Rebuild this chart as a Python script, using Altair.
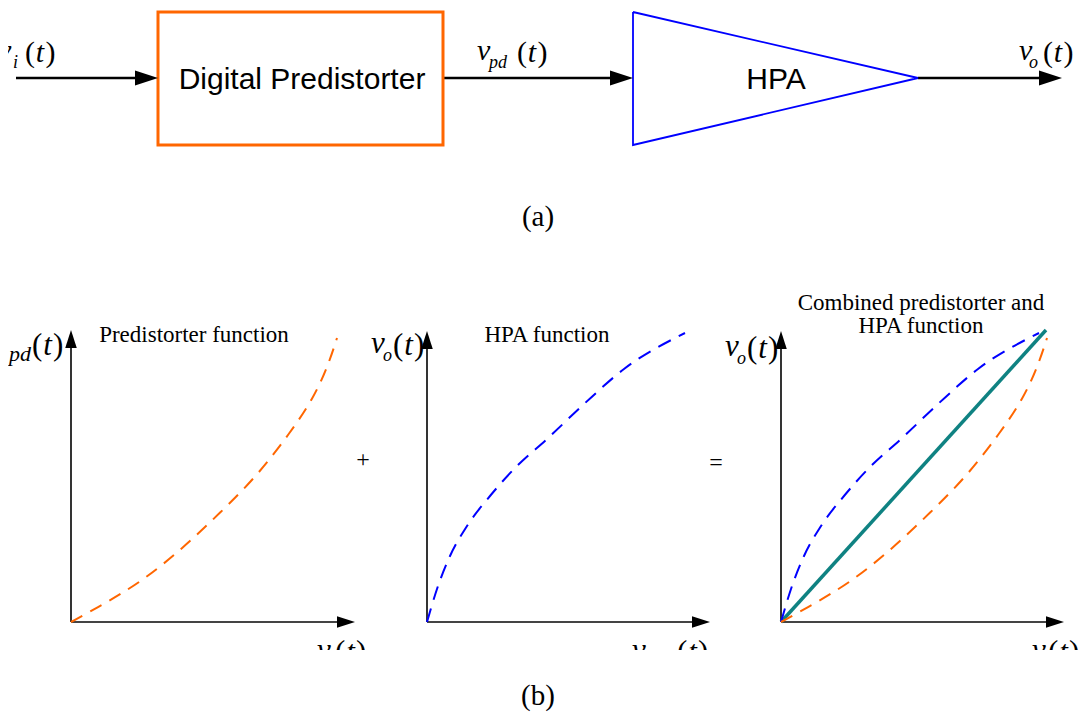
import altair as alt
import pandas as pd

# ---------------- content ----------------
BLOCK_LABELS = ["Digital Predistorter", "HPA"]
PANEL_TITLES = ["Predistorter function", "HPA function", "Combined predistorter and", "HPA function"]
CAPTIONS = ["(a)", "(b)"]
OPERATORS = ["+", "="]
SIGNAL = "v"
TOP_SUBS = ["i", "pd", "o"]          # v_i(t) -> [DPD] -> v_pd(t) -> [HPA] -> v_o(t)
YAXIS_SUBS = ["pd", "o", "o"]
XAXIS_SUBS = ["i", "pd", "i"]

# transfer curves: offsets from the panel origin (right, up)
PD_DX = [0, 24, 69, 111, 149, 186, 219, 242, 257, 266]
PD_DY = [0, 13, 39, 73, 109, 146, 189, 223, 256, 284]
HPA_DX = [0, 10, 23, 40, 63, 90, 120, 157, 197, 258]
HPA_DY = [0, 33, 66, 96, 126, 156, 183, 218, 253, 289]
LIN_DX = [0, 265]
LIN_DY = [0, 292]

# ---------------- layout (page pixels) ----------------
BOX_X = [158, 443]
BOX_Y = [12, 145]
AMP_X = [633, 633, 918, 633]
AMP_Y = [12, 145, 78, 12]
WIRE_Y = 78
WIRE_X0 = [16, 443, 918]
WIRE_X1 = [150, 625, 1054]
ARROW_TOP_X = [158, 633, 1062]

PANEL_X0 = [71, 427, 781]
PANEL_Y0 = 622
YAXIS_TIP = [330, 331, 331]
XAXIS_TIP = [355, 710, 1064]

ORANGE = "#FF6600"
BLUE = "#0000FF"
TEAL = "#0F8282"

# ---------------- tables ----------------
box = pd.DataFrame({"x": [BOX_X[0]], "x2": [BOX_X[1]], "y": [BOX_Y[0]], "y2": [BOX_Y[1]]})
amp = pd.DataFrame({"x": AMP_X, "y": AMP_Y, "i": list(range(len(AMP_X)))})
wires = pd.DataFrame({"x": WIRE_X0, "x2": WIRE_X1, "y": [WIRE_Y] * 3, "y2": [WIRE_Y] * 3})

yaxes = pd.DataFrame({"x": PANEL_X0, "x2": PANEL_X0, "y": [PANEL_Y0] * 3,
                      "y2": [t + 12 for t in YAXIS_TIP]})
xaxes = pd.DataFrame({"x": PANEL_X0, "x2": [t - 12 for t in XAXIS_TIP],
                      "y": [PANEL_Y0] * 3, "y2": [PANEL_Y0] * 3})

arrows_right = pd.DataFrame({"x": ARROW_TOP_X, "y": [WIRE_Y] * 3})
arrows_right_small = pd.DataFrame({"x": XAXIS_TIP, "y": [PANEL_Y0] * 3})
arrows_up = pd.DataFrame({"x": PANEL_X0, "y": YAXIS_TIP})


def curve(name, dx, dy, x0):
    return pd.DataFrame({"curve": name, "i": list(range(len(dx))),
                         "x": [x0 + v for v in dx], "y": [PANEL_Y0 - v for v in dy]})


orange_df = pd.concat([curve("pd1", PD_DX, PD_DY, PANEL_X0[0]),
                       curve("pd3", PD_DX, PD_DY, PANEL_X0[2])])
blue_df = pd.concat([curve("hpa2", HPA_DX, HPA_DY, PANEL_X0[1]),
                     curve("hpa3", HPA_DX, HPA_DY, PANEL_X0[2])])
teal_df = curve("lin", LIN_DX, LIN_DY, PANEL_X0[2])

italic_rows, upright_rows = [], []


def math_label(xv, base, size, sub, xsub, xpar, subsize=18):
    italic_rows.append({"x": xv, "y": base - 2, "t": SIGNAL, "s": size})
    italic_rows.append({"x": xsub, "y": base + 6, "t": sub, "s": subsize})
    upright_rows.append({"x": xpar, "y": base, "t": "(", "s": size})
    italic_rows.append({"x": xpar + 0.36 * size, "y": base, "t": "t", "s": size})
    upright_rows.append({"x": xpar + 0.68 * size, "y": base, "t": ")", "s": size})


# top signal labels
math_label(-2, 62, 30, TOP_SUBS[0], 13, 25)
math_label(477, 62, 30, TOP_SUBS[1], 489, 517)
math_label(1019, 62, 30, TOP_SUBS[2], 1029, 1043)
# y-axis labels of the three panels
math_label(-16, 355, 31, YAXIS_SUBS[0], 9, 32, subsize=22)
math_label(371, 355, 31, YAXIS_SUBS[1], 383, 393)
math_label(725, 358, 31, YAXIS_SUBS[2], 737, 747)
# x-axis labels (cropped in the source)
math_label(317, 662, 31, XAXIS_SUBS[0], 329, 335)
math_label(632, 662, 31, XAXIS_SUBS[1], 645, 677)
math_label(1032, 662, 31, XAXIS_SUBS[2], 1043, 1048)

italic_df = pd.DataFrame(italic_rows)
upright_df = pd.DataFrame(upright_rows)

serif_center = pd.DataFrame({
    "x": [194, 547, 921, 921, 538, 538, 363, 716],
    "y": [342, 342, 310, 333, 226, 705, 467, 470],
    "t": PANEL_TITLES + CAPTIONS + OPERATORS,
    "s": [23, 23, 23, 23, 29, 29, 24, 24],
})
sans_center = pd.DataFrame({"x": [302, 776], "y": [89, 89], "t": BLOCK_LABELS})
crop = pd.DataFrame({"x": [8], "x2": [1078], "y": [650], "y2": [680]})

# ---------------- encodings ----------------
XS = alt.Scale(domain=[8, 1078], nice=False, zero=False)
YS = alt.Scale(domain=[8, 712], reverse=True, nice=False, zero=False)
X = alt.X("x:Q", scale=XS, axis=None)
Y = alt.Y("y:Q", scale=YS, axis=None)

ARROW_BIG = "M0,0L-1,-0.33L-1,0.33Z"
ARROW_SMALL = "M0,0L-1,-0.32L-1,0.32Z"

layers = [
    alt.Chart(wires).mark_rule(color="black", strokeWidth=2.5).encode(X, Y, x2="x2:Q", y2="y2:Q"),
    alt.Chart(box).mark_rect(fill="white", stroke=ORANGE, strokeWidth=3).encode(X, Y, x2="x2:Q", y2="y2:Q"),
    alt.Chart(amp).mark_line(color=BLUE, strokeWidth=1.8).encode(X, Y, order="i:Q"),
    alt.Chart(arrows_right).mark_point(shape=ARROW_BIG, filled=True, color="black", opacity=1,
                                       size=2116, strokeWidth=0).encode(X, Y),
    alt.Chart(yaxes).mark_rule(color="black", strokeWidth=1.6).encode(X, Y, x2="x2:Q", y2="y2:Q"),
    alt.Chart(xaxes).mark_rule(color="#444444", strokeWidth=2).encode(X, Y, x2="x2:Q", y2="y2:Q"),
    alt.Chart(arrows_right_small).mark_point(shape=ARROW_SMALL, filled=True, color="black", opacity=1,
                                             size=1296, strokeWidth=0).encode(X, Y),
    alt.Chart(arrows_up).mark_point(shape=ARROW_SMALL, filled=True, color="black", opacity=1,
                                    size=1296, strokeWidth=0, angle=270).encode(X, Y),
    alt.Chart(teal_df).mark_line(color=TEAL, strokeWidth=3.5).encode(X, Y, order="i:Q"),
    alt.Chart(blue_df).mark_line(color=BLUE, strokeWidth=2, strokeDash=[14, 9],
                                 interpolate="monotone").encode(X, Y, detail="curve:N", order="i:Q"),
    alt.Chart(orange_df).mark_line(color=ORANGE, strokeWidth=2, strokeDash=[13, 9],
                                   interpolate="basis").encode(X, Y, detail="curve:N", order="i:Q"),
    alt.Chart(italic_df).mark_text(font="Liberation Serif", fontStyle="italic", align="left",
                                   baseline="alphabetic", color="black").encode(
        X, Y, text="t:N", size=alt.Size("s:Q", scale=None)),
    alt.Chart(upright_df).mark_text(font="Liberation Serif", align="left",
                                    baseline="alphabetic", color="black").encode(
        X, Y, text="t:N", size=alt.Size("s:Q", scale=None)),
    alt.Chart(crop).mark_rect(fill="white").encode(X, Y, x2="x2:Q", y2="y2:Q"),
    alt.Chart(serif_center).mark_text(font="Liberation Serif", align="center",
                                      baseline="alphabetic", color="black").encode(
        X, Y, text="t:N", size=alt.Size("s:Q", scale=None)),
    alt.Chart(sans_center).mark_text(font="Liberation Sans", fontSize=30, align="center",
                                     baseline="alphabetic", color="black").encode(X, Y, text="t:N"),
]

chart = alt.layer(*layers).properties(
    width=1070, height=704, padding=0, background="white",
    autosize=alt.AutoSizeParams(type="none"),
).configure_view(stroke=None)

chart.save("out.html", embed_options={"renderer": "svg", "actions": False})
